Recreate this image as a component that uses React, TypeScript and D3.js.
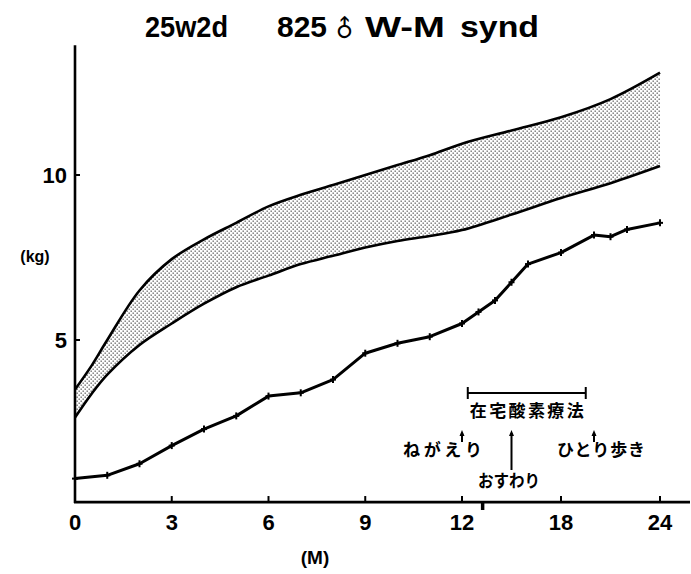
import React from "react";
import * as d3 from "d3";

const W = 691;
const H = 574;

// Reference band (lower / upper), months
const bandMonths = [0, 0.5, 1, 2, 3, 4, 5, 6, 7, 8, 9, 10, 11, 12, 15, 18, 21, 24];
const bandLower = [2.65, 3.35, 3.95, 4.85, 5.5, 6.1, 6.6, 6.95, 7.3, 7.55, 7.8, 8.0, 8.15, 8.33, 8.8, 9.3, 9.75, 10.27];
const bandUpper = [3.5, 4.2, 5.0, 6.5, 7.45, 8.05, 8.55, 9.05, 9.4, 9.7, 10.0, 10.3, 10.6, 10.95, 11.35, 11.75, 12.3, 13.1];

// Patient weight (kg) by month
const weightMonths = [0, 1, 2, 3, 4, 5, 6, 7, 8, 9, 10, 11, 12, 13, 14, 15, 16, 18, 20, 21, 22, 24];
const weightKg = [0.8, 0.9, 1.25, 1.8, 2.3, 2.7, 3.3, 3.4, 3.8, 4.6, 4.9, 5.1, 5.5, 5.85, 6.2, 6.75, 7.3, 7.65, 8.18, 8.13, 8.35, 8.55];

const xTicks = [0, 3, 6, 9, 12, 18, 24];
const yTicks = [5, 10];

const milestones = [
  { label: "ねがえり", month: 12, kind: "short" },
  { label: "おすわり", month: 15, kind: "long" },
  { label: "ひとり歩き", month: 20, kind: "short" },
];
const therapy = { label: "在宅酸素療法", from: 12.35, to: 19.5 };

export default function App() {
  const x = d3.scaleLinear().domain([0, 12, 24]).range([75, 462, 660]);
  const y = d3.scaleLinear().domain([0, 14]).range([505, 43]);
  const axisY = y(0.09);

  const bandData = bandMonths.map((m, i) => ({ m, lo: bandLower[i], hi: bandUpper[i] }));
  const curve = d3.curveCatmullRom.alpha(0.5);
  const area = d3
    .area<{ m: number; lo: number; hi: number }>()
    .x((d) => x(d.m))
    .y0((d) => y(d.lo))
    .y1((d) => y(d.hi))
    .curve(curve);
  const lineLo = d3
    .line<{ m: number; lo: number; hi: number }>()
    .x((d) => x(d.m))
    .y((d) => y(d.lo))
    .curve(curve);
  const lineHi = d3
    .line<{ m: number; lo: number; hi: number }>()
    .x((d) => x(d.m))
    .y((d) => y(d.hi))
    .curve(curve);

  const wData = weightMonths.map((m, i) => ({ m, v: weightKg[i] }));
  const wLine = d3
    .line<{ m: number; v: number }>()
    .x((d) => x(d.m))
    .y((d) => y(d.v))
    .curve(d3.curveLinear);

  const bold = { fontWeight: 700 } as const;
  const sans = "'Liberation Sans', Arial, sans-serif";
  const jp = "'Noto Sans CJK JP', sans-serif";

  const therapyY = 393;

  return (
    <svg width={W} height={H} style={{ display: "block", position: "absolute", left: 0, top: 0, background: "#fff" }}>
      <defs>
        <pattern id="dots" width="4" height="4" patternUnits="userSpaceOnUse">
          <rect x="0.6" y="0.6" width="1.1" height="1.1" fill="#111" />
          <rect x="2.6" y="2.6" width="1.1" height="1.1" fill="#111" />
        </pattern>
      </defs>

      {/* Title */}
      <g fontFamily={sans} {...bold} fontSize={30} fill="#000">
        <text x={145} y={37} textLength={83} lengthAdjust="spacingAndGlyphs">25w2d</text>
        <text x={277} y={37} textLength={50} lengthAdjust="spacingAndGlyphs">825</text>
        <text x={344} y={37} textAnchor="middle" fontFamily="'DejaVu Sans', sans-serif" fontSize={24} transform="rotate(-45 344 28)">♂</text>
        <text x={365} y={37} textLength={80} lengthAdjust="spacingAndGlyphs">W-M</text>
        <text x={460} y={37} textLength={79} lengthAdjust="spacingAndGlyphs">synd</text>
      </g>

      {/* Band */}
      <path d={area(bandData) || ""} fill="url(#dots)" />
      <path d={lineLo(bandData) || ""} fill="none" stroke="#000" strokeWidth={2.6} />
      <path d={lineHi(bandData) || ""} fill="none" stroke="#000" strokeWidth={2.6} />

      {/* Weight line */}
      <path d={wLine(wData) || ""} fill="none" stroke="#000" strokeWidth={3} strokeLinejoin="round" />
      {wData.map((d, i) => (
        <g key={i} transform={`translate(${x(d.m)},${y(d.v)})`} stroke="#000" strokeWidth={2}>
          <line x1={0} y1={-3.5} x2={0} y2={3.5} />
          <line x1={-3} y1={0} x2={3} y2={0} />
        </g>
      ))}

      {/* Axes */}
      <line x1={x(0)} y1={y(13.93)} x2={x(0)} y2={axisY + 1} stroke="#000" strokeWidth={2.6} />
      <line x1={x(0) - 1} y1={axisY} x2={690} y2={axisY} stroke="#000" strokeWidth={2.8} />
      {yTicks.map((t) => (
        <g key={t}>
          <line x1={x(0)} x2={x(0) + 5} y1={y(t)} y2={y(t)} stroke="#000" strokeWidth={2} />
          <text x={x(0) - 8} y={y(t)} dy="0.36em" textAnchor="end" fontFamily={sans} {...bold} fontSize={22}>
            {t}
          </text>
        </g>
      ))}
      {xTicks.map((t) => (
        <g key={t}>
          <line x1={x(t)} x2={x(t)} y1={axisY} y2={axisY - 6} stroke="#000" strokeWidth={2} />
          <text x={x(t)} y={axisY + 28} textAnchor="middle" fontFamily={sans} {...bold} fontSize={22}>
            {t}
          </text>
        </g>
      ))}
      <line x1={x(13.25)} x2={x(13.25)} y1={axisY} y2={axisY + 8} stroke="#000" strokeWidth={3.5} />

      <text x={35} y={262} textAnchor="middle" fontFamily={sans} {...bold} fontSize={16}>(kg)</text>
      <text x={315} y={564} textAnchor="middle" fontFamily={sans} {...bold} fontSize={19}>(M)</text>

      {/* Therapy bracket */}
      <g stroke="#000" strokeWidth={2}>
        <line x1={x(therapy.from)} x2={x(therapy.to)} y1={therapyY} y2={therapyY} />
        <line x1={x(therapy.from)} x2={x(therapy.from)} y1={therapyY - 6} y2={therapyY + 6} />
        <line x1={x(therapy.to)} x2={x(therapy.to)} y1={therapyY - 6} y2={therapyY + 6} />
      </g>
      <text
        x={(x(therapy.from) + x(therapy.to)) / 2}
        y={417}
        textAnchor="middle"
        fontFamily={jp}
        {...bold}
        fontSize={17}
        textLength={114}
        lengthAdjust="spacing"
      >
        {therapy.label}
      </text>

      {/* Milestones */}
      {milestones.map((ms) => {
        const mx = x(ms.month);
        const top = 430;
        const bot = ms.kind === "long" ? 470 : 442;
        return (
          <g key={ms.label}>
            <line x1={mx} x2={mx} y1={top + 3} y2={bot} stroke="#000" strokeWidth={2} />
            <path d={`M${mx},${top} L${mx - 2.5},${top + 6} L${mx + 2.5},${top + 6} Z`} fill="#000" />
          </g>
        );
      })}
      <text x={403} y={456} fontFamily={jp} {...bold} fontSize={17} textLength={79} lengthAdjust="spacing">ねがえり</text>
      <text x={478} y={487} fontFamily={jp} {...bold} fontSize={17} textLength={62} lengthAdjust="spacingAndGlyphs">おすわり</text>
      <text x={557} y={456} fontFamily={jp} {...bold} fontSize={17} textLength={88} lengthAdjust="spacing">ひとり歩き</text>
    </svg>
  );
}
